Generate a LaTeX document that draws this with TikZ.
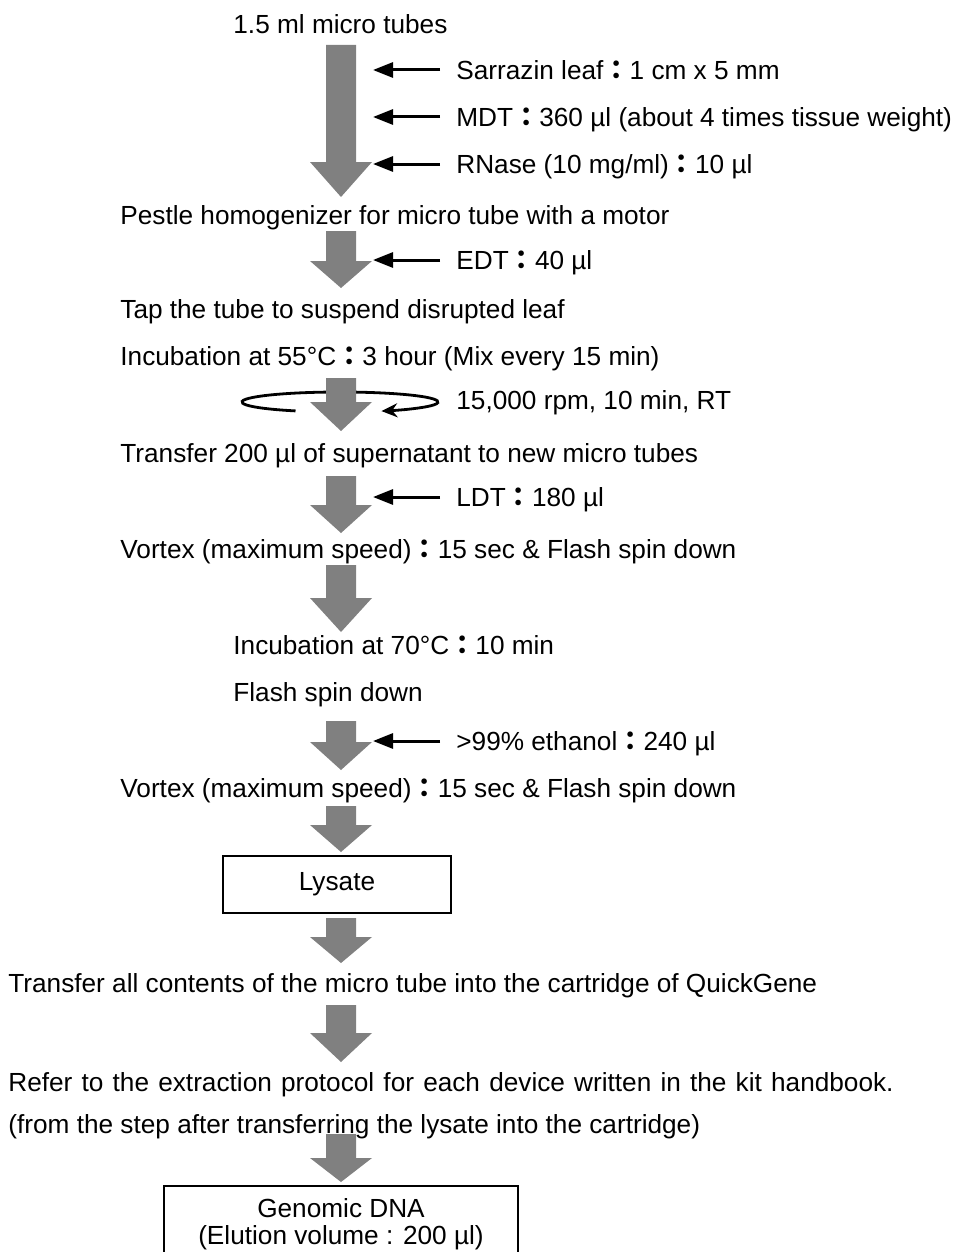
\documentclass[tikz,border=0pt]{standalone}
\usepackage{fontspec}
\setmainfont{Liberation Sans}
\newfontfamily\cjk{Noto Sans CJK JP}
\usetikzlibrary{arrows.meta}

\definecolor{flowgray}{RGB}{128,128,128}
\newcommand{\fwc}{{\cjk\bfseries ：}}
% gray block arrow: shaft top, head base, tip
\newcommand{\flowarrow}[3]{%
  \fill[flowgray] (326,#1) -- (356,#1) -- (356,#2) -- (372,#2) -- (341,#3) -- (310,#2) -- (326,#2) -- cycle;}

\tikzset{
  txt/.style={anchor=west, inner sep=0pt, text height=9.4pt, text depth=0pt},
  feed/.style={line width=1.5pt, -{Triangle[length=10pt,width=7.5pt]}},
  resultbox/.style={draw, line width=0.9pt, inner sep=0pt, align=center},
}

\begin{document}
\begin{tikzpicture}[x=0.5pt, y=-0.5pt, font=\fontsize{13.1}{13.5}\selectfont]
    \useasboundingbox (0,0) rectangle (961,1252);
    \clip (0,0) rectangle (961,1252);

    % texts
    \node[txt] (tubes)    at (233,24)  {1.5 ml micro tubes};
    \node[txt] (sarrazin) at (456,70)  {Sarrazin leaf\fwc 1 cm x 5 mm};
    \node[txt] (mdt)      at (456,117) {MDT\fwc 360 µl (about 4 times tissue weight)};
    \node[txt] (rnase)    at (456,164) {RNase (10 mg/ml)\fwc 10 µl};
    \node[txt] (pestle)   at (120,215) {Pestle homogenizer for micro tube with a motor};
    \node[txt] (edt)      at (456,260) {EDT\fwc 40 µl};
    \node[txt] (tap)      at (120,309) {Tap the tube to suspend disrupted leaf};
    \node[txt] (incubA)   at (120,356) {Incubation at 55°C\fwc 3 hour (Mix every 15 min)};
    \node[txt] (rpm)      at (456,400) {15,000 rpm, 10 min, RT};
    \node[txt] (super)    at (120,453) {Transfer 200 µl of supernatant to new micro tubes};
    \node[txt] (ldt)      at (456,497) {LDT\fwc 180 µl};
    \node[txt] (vortexA)  at (120,549) {Vortex (maximum speed)\fwc 15 sec \& Flash spin down};
    \node[txt] (incubB)   at (233,645) {Incubation at 70°C\fwc 10 min};
    \node[txt] (flash)    at (233,692) {Flash spin down};
    \node[txt] (ethanol)  at (456,741) {>99\% ethanol\fwc 240 µl};
    \node[txt] (vortexB)  at (120,788) {Vortex (maximum speed)\fwc 15 sec \& Flash spin down};
    \node[txt] (cartridge) at (8,983)  {Transfer all contents of the micro tube into the cartridge of QuickGene};
    \node[txt] (referA)   at (8,1082)  {\spaceskip=4.6pt Refer to the extraction protocol for each device written in the kit handbook.};
    \node[txt] (referB)   at (8,1124)  {(from the step after transferring the lysate into the cartridge)};

    % boxes
    \node[resultbox, minimum width=114pt, minimum height=28.5pt] (lysate) at (337,884.5) {Lysate};
    \node[resultbox, minimum width=177pt, minimum height=38pt] (dna) at (341,1224)
        {Genomic DNA\\(Elution volume : 200 µl)};

    % spin
    \draw[line width=1.4pt, -{Stealth[length=8pt,width=7pt]}] (340,402) ++(243:49pt and 5pt)
        arc[start angle=243, end angle=-65, x radius=49pt, y radius=5pt];

    % block arrows
    \flowarrow{45}{162}{197}
    \flowarrow{231}{261}{288}
    \flowarrow{378}{402}{431}
    \flowarrow{476}{505}{533}
    \flowarrow{565}{598}{632}
    \flowarrow{721}{742}{770}
    \flowarrow{806}{825}{852}
    \flowarrow{918}{937}{963}
    \flowarrow{1005}{1033}{1062}
    \flowarrow{1134}{1158}{1182}

    % additions
    \draw[feed] ([xshift=-8pt]sarrazin.west) -- ++(-67,0);
    \draw[feed] ([xshift=-8pt]mdt.west) -- ++(-67,0);
    \draw[feed] ([xshift=-8pt]rnase.west) -- ++(-67,0);
    \draw[feed] ([xshift=-8pt]edt.west) -- ++(-67,0);
    \draw[feed] ([xshift=-8pt]ldt.west) -- ++(-67,0);
    \draw[feed] ([xshift=-8pt]ethanol.west) -- ++(-67,0);

\end{tikzpicture}
\end{document}
